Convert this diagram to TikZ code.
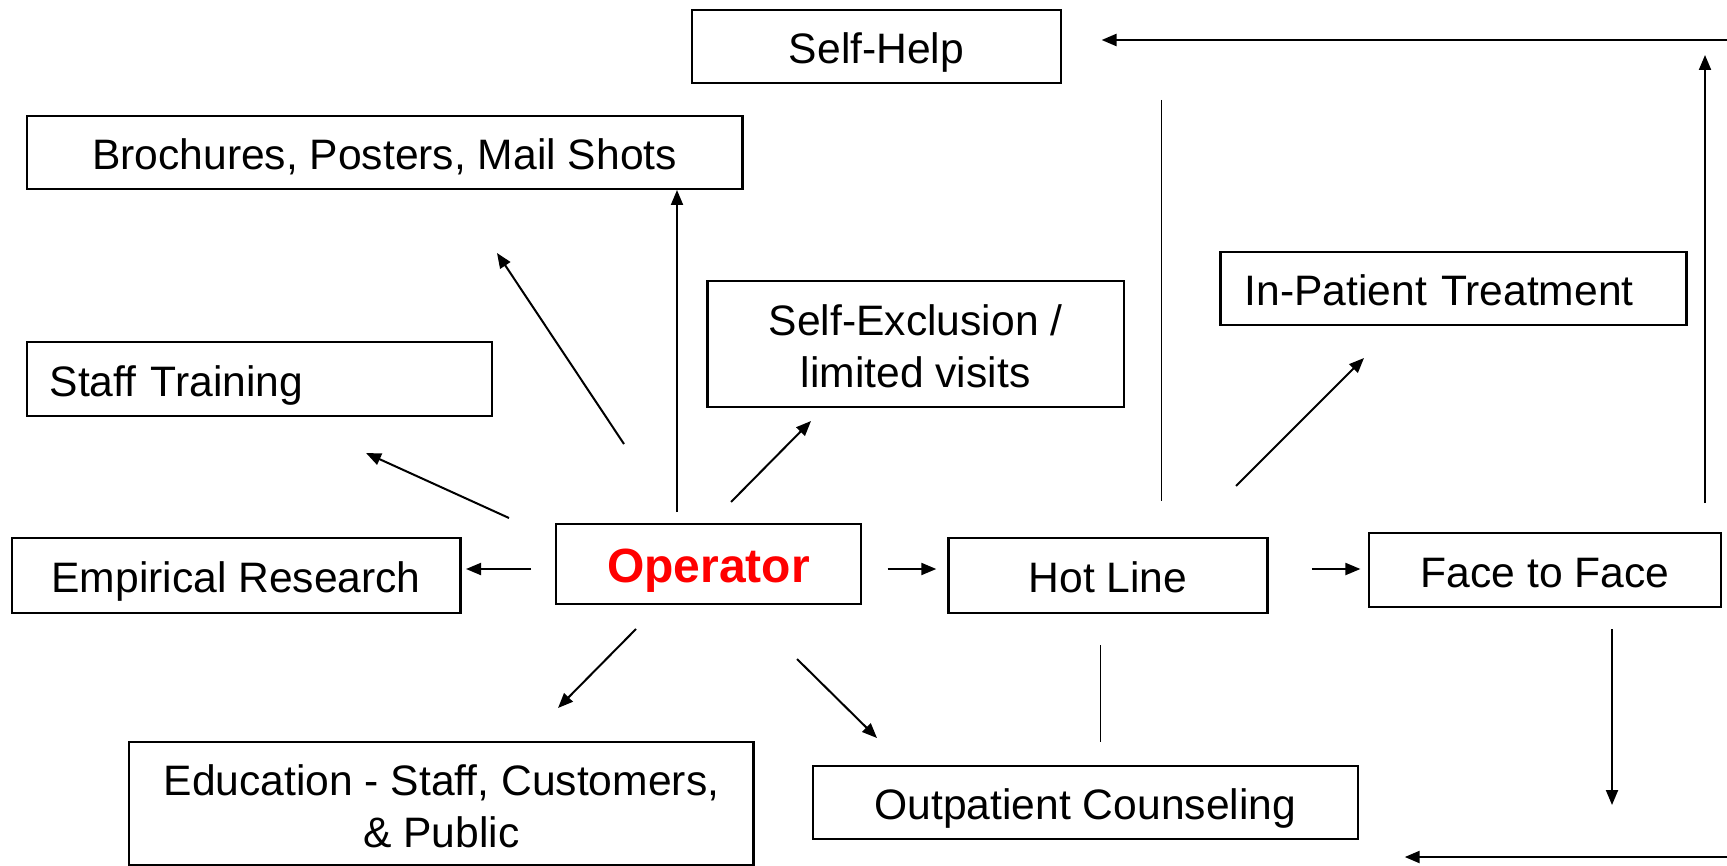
\documentclass[tikz,border=0pt]{standalone}
\usepackage{fontspec}
\setmainfont{Liberation Sans}
\usetikzlibrary{arrows.meta}
\begin{document}
\begin{tikzpicture}[x=0.5pt,y=-0.5pt,
  box/.style={draw, line width=1.1pt, inner sep=0pt, align=center, font=\fontsize{21.3}{26}\selectfont},
  one/.style={text height=17pt, text depth=0pt},
  arr/.style={line width=1pt, -{Triangle[length=7.5pt,width=6pt]}},
  thinline/.style={line width=0.6pt}]
\useasboundingbox (0,0) rectangle (1727,866);
\fill[white] (0,0) rectangle (1727,866);

% boxes
\node[box, one, minimum width=184.5pt, minimum height=36.5pt] (selfhelp) at (876.5,46.5) {Self-Help};
\node[box, one, minimum width=357.9pt, minimum height=36.5pt] (broch) at (384.5,152.5) {Brochures, Posters, Mail Shots};
\node[box, one, text width=209.5pt, inner xsep=11.5pt, align=left, minimum height=37pt] (staff) at (259.1,379) {Staff Training};
\node[box, one, minimum width=224.4pt, minimum height=37.5pt] (empir) at (236.1,575.5) {Empirical Research};
\node[box, minimum width=152.5pt, minimum height=40pt, text height=18.6pt, text depth=0pt,
      font=\fontsize{24}{29}\selectfont\bfseries, text=red] (oper) at (708.5,564) {Operator};
\node[box, minimum width=208.2pt, minimum height=63pt] (selfex) at (915.6,344) {\rule{0pt}{17.7pt}Self-Exclusion /\\limited visits};
\node[box, one, text width=209pt, inner xsep=12pt, align=left, minimum height=36.5pt] (inpat) at (1453.5,288.5) {In-Patient Treatment};
\node[box, one, minimum width=159.5pt, minimum height=37.5pt] (hotline) at (1108,575.5) {Hot Line};
\node[box, one, minimum width=176pt, minimum height=37pt] (face) at (1545,570) {Face to Face};
\node[box, minimum width=312.1pt, minimum height=61.5pt] (educ) at (441.4,803.5) {\rule{0pt}{17.7pt}Education - Staff, Customers,\\\& Public};
\node[box, one, minimum width=272.3pt, minimum height=36.5pt] (outpat) at (1085.4,802.5) {Outpatient Counseling};

% connector end points
\coordinate (a1s) at (677,512);    \coordinate (a1e) at (677,190);
\coordinate (a2s) at (624,444);    \coordinate (a2e) at (497,253);
\coordinate (a3s) at (509,518);    \coordinate (a3e) at (366,453);
\coordinate (a4s) at (531,569);    \coordinate (a4e) at (466,569);
\coordinate (a5s) at (731,502);    \coordinate (a5e) at (811,421);
\coordinate (a6s) at (636,629);    \coordinate (a6e) at (558,708);
\coordinate (a7s) at (797,659);    \coordinate (a7e) at (877,738);
\coordinate (a8s) at (887.6,569);  \coordinate (a8e) at (936.3,569);
\coordinate (a9s) at (1311.8,569); \coordinate (a9e) at (1360.4,569);
\coordinate (a10s) at (1236,486);  \coordinate (a10e) at (1364,358);
\coordinate (l1s) at (1161.4,100); \coordinate (l1e) at (1161.4,501);
\coordinate (l2s) at (1100.5,645); \coordinate (l2e) at (1100.5,742);
\coordinate (a11s) at (1705,503);  \coordinate (a11e) at (1705,55);
\coordinate (a12s) at (1727,40);   \coordinate (a12e) at (1101.6,40);
\coordinate (a13s) at (1612,629);  \coordinate (a13e) at (1612,805);
\coordinate (a14s) at (1727,857);  \coordinate (a14e) at (1404.7,857);

% connectors
\draw[arr] (a1s) -- (a1e);
\draw[arr] (a2s) -- (a2e);
\draw[arr] (a3s) -- (a3e);
\draw[arr] (a4s) -- (a4e);
\draw[arr] (a5s) -- (a5e);
\draw[arr] (a6s) -- (a6e);
\draw[arr] (a7s) -- (a7e);
\draw[arr] (a8s) -- (a8e);
\draw[arr] (a9s) -- (a9e);
\draw[arr] (a10s) -- (a10e);
\draw[thinline] (l1s) -- (l1e);
\draw[thinline] (l2s) -- (l2e);
\draw[arr] (a11s) -- (a11e);
\draw[arr, line width=1.2pt] (a12s) -- (a12e);
\draw[arr] (a13s) -- (a13e);
\draw[arr, line width=1.2pt] (a14s) -- (a14e);
\end{tikzpicture}
\end{document}
